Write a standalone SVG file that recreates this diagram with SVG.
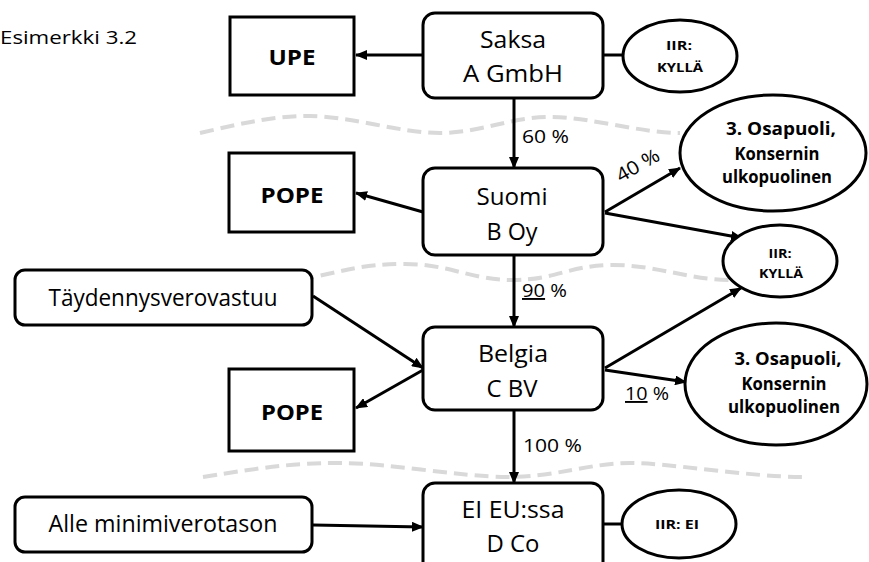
<svg xmlns="http://www.w3.org/2000/svg" width="869" height="562" viewBox="0 0 869 562">
<style>
  text { font-family: "Open Sans", "Liberation Sans", sans-serif; fill: #000; }
  .main { font-size: 23px; text-anchor: middle; }
  .boldbox { font-size: 22px; font-weight: bold; text-anchor: middle; }
  .pct { font-size: 19px; }
  .ell { font-size: 17px; font-weight: bold; text-anchor: middle; }
  .iir { font-size: 13px; font-weight: bold; text-anchor: middle; }
  .box { fill: #fff; stroke: #000; stroke-width: 3; }
  .conn { stroke: #000; stroke-width: 3; fill: none; }
  .arr { marker-end: url(#ah); }
  .wave { fill: none; stroke: #d9d9d9; stroke-width: 4; stroke-dasharray: 14 7; }
  .ul { text-decoration: underline; }
</style>
<defs>
  <marker id="ah" markerUnits="userSpaceOnUse" markerWidth="12" markerHeight="10" refX="11" refY="5" orient="auto">
    <path d="M0,0 L12,5 L0,10 z" fill="#000"/>
  </marker>
</defs>
<rect width="869" height="562" fill="#fff"/>

<g id="dividers">
  <path class="wave" d="M200,133 C240,124 270,116 310,116 S400,133 440,133 S510,117 550,117 S640,133 680,133"/>
  <path class="wave" d="M300,280 C340,272 360,264 405,264 S470,280 513,280 S570,265 613,265 S690,280 730,280"/>
  <path class="wave" d="M203,477 C260,468 290,463 340,463 S460,477 508,477 S590,463 630,463 S750,477 803,477"/>
</g>

<text x="0" y="44" font-size="18" textLength="137" lengthAdjust="spacingAndGlyphs">Esimerkki 3.2</text>

<g id="connectors">
  <line class="conn arr" x1="423" y1="55" x2="356" y2="55"/>
  <line class="conn" x1="603" y1="55" x2="624" y2="55"/>
  <line class="conn arr" x1="514" y1="98" x2="514" y2="168"/>
  <line class="conn arr" x1="423" y1="212" x2="356" y2="193"/>
  <line class="conn arr" x1="605" y1="212" x2="680" y2="168"/>
  <line class="conn arr" x1="605" y1="213" x2="742" y2="238"/>
  <line class="conn arr" x1="514" y1="255" x2="514" y2="327"/>
  <line class="conn arr" x1="313" y1="296" x2="423" y2="368"/>
  <line class="conn arr" x1="423" y1="370" x2="356" y2="408"/>
  <line class="conn arr" x1="605" y1="368" x2="741" y2="288"/>
  <line class="conn arr" x1="605" y1="370" x2="686" y2="382"/>
  <line class="conn arr" x1="514" y1="410" x2="514" y2="483"/>
  <line class="conn" x1="603" y1="524" x2="623" y2="524"/>
  <line class="conn arr" x1="313" y1="525" x2="423" y2="527"/>
  <text class="pct" x="522" y="143" textLength="47" lengthAdjust="spacingAndGlyphs">60 %</text>
  <text class="pct" transform="translate(641,171) rotate(-30)" text-anchor="middle" textLength="47" lengthAdjust="spacingAndGlyphs">40 %</text>
  <text class="pct" x="522" y="297" textLength="45" lengthAdjust="spacingAndGlyphs"><tspan class="ul">90</tspan> %</text>
  <text class="pct" x="625" y="400" textLength="44" lengthAdjust="spacingAndGlyphs"><tspan class="ul">10</tspan> %</text>
  <text class="pct" x="523" y="452" textLength="59" lengthAdjust="spacingAndGlyphs">100 %</text>
</g>

<g id="upe">
  <rect class="box" x="230" y="17" width="124" height="78"/>
  <text class="boldbox" x="292" y="65" textLength="47" lengthAdjust="spacingAndGlyphs">UPE</text>
</g>
<g id="saksa">
  <rect class="box" x="423" y="13" width="180" height="85" rx="12"/>
  <text class="main" x="513" y="48" textLength="66" lengthAdjust="spacingAndGlyphs">Saksa</text>
  <text class="main" x="513" y="82" textLength="100" lengthAdjust="spacingAndGlyphs">A GmbH</text>
</g>
<g id="iir-a">
  <ellipse class="box" cx="680" cy="56" rx="57" ry="36"/>
  <text class="iir" x="679" y="50" textLength="26" lengthAdjust="spacingAndGlyphs">IIR:</text>
  <text class="iir" x="680" y="72" textLength="46" lengthAdjust="spacingAndGlyphs">KYLLÄ</text>
</g>
<g id="pope-b">
  <rect class="box" x="229" y="153" width="125" height="79"/>
  <text class="boldbox" x="292" y="203" textLength="63" lengthAdjust="spacingAndGlyphs">POPE</text>
</g>
<g id="suomi">
  <rect class="box" x="423" y="168" width="180" height="87" rx="12"/>
  <text class="main" x="512" y="205" textLength="71" lengthAdjust="spacingAndGlyphs">Suomi</text>
  <text class="main" x="512" y="240" textLength="51" lengthAdjust="spacingAndGlyphs">B Oy</text>
</g>
<g id="third-b">
  <ellipse class="box" cx="773" cy="153" rx="93" ry="58"/>
  <text class="ell" x="781" y="135" textLength="110" lengthAdjust="spacingAndGlyphs">3. Osapuoli,</text>
  <text class="ell" x="777" y="160" textLength="85" lengthAdjust="spacingAndGlyphs">Konsernin</text>
  <text class="ell" x="777" y="183" textLength="110" lengthAdjust="spacingAndGlyphs">ulkopuolinen</text>
</g>
<g id="iir-b">
  <ellipse class="box" cx="780" cy="261" rx="57" ry="36"/>
  <text class="iir" x="780" y="258" textLength="23" lengthAdjust="spacingAndGlyphs">IIR:</text>
  <text class="iir" x="781" y="278" textLength="44" lengthAdjust="spacingAndGlyphs">KYLLÄ</text>
</g>
<g id="taydennys">
  <rect class="box" x="15" y="270" width="297" height="55" rx="10"/>
  <text class="main" x="163" y="306" textLength="229" lengthAdjust="spacingAndGlyphs">Täydennysverovastuu</text>
</g>
<g id="belgia">
  <rect class="box" x="423" y="327" width="180" height="83" rx="12"/>
  <text class="main" x="513" y="362" textLength="70" lengthAdjust="spacingAndGlyphs">Belgia</text>
  <text class="main" x="512" y="397" textLength="51" lengthAdjust="spacingAndGlyphs">C BV</text>
</g>
<g id="pope-c">
  <rect class="box" x="229" y="369" width="125" height="82"/>
  <text class="boldbox" x="292" y="420" textLength="62" lengthAdjust="spacingAndGlyphs">POPE</text>
</g>
<g id="third-c">
  <ellipse class="box" cx="776" cy="384" rx="91" ry="61"/>
  <text class="ell" x="788" y="365" textLength="107" lengthAdjust="spacingAndGlyphs">3. Osapuoli,</text>
  <text class="ell" x="784" y="390" textLength="85" lengthAdjust="spacingAndGlyphs">Konsernin</text>
  <text class="ell" x="784" y="413" textLength="112" lengthAdjust="spacingAndGlyphs">ulkopuolinen</text>
</g>
<g id="ei-eu">
  <rect class="box" x="423" y="483" width="180" height="95" rx="12"/>
  <text class="main" x="513" y="518" textLength="103" lengthAdjust="spacingAndGlyphs">EI EU:ssa</text>
  <text class="main" x="513" y="552" textLength="53" lengthAdjust="spacingAndGlyphs">D Co</text>
</g>
<g id="iir-d">
  <ellipse class="box" cx="679" cy="524" rx="57" ry="34"/>
  <text class="iir" x="677" y="529" textLength="44" lengthAdjust="spacingAndGlyphs">IIR: EI</text>
</g>
<g id="alle">
  <rect class="box" x="15" y="497" width="297" height="55" rx="10"/>
  <text class="main" x="163" y="532" textLength="229" lengthAdjust="spacingAndGlyphs">Alle minimiverotason</text>
</g>
</svg>
